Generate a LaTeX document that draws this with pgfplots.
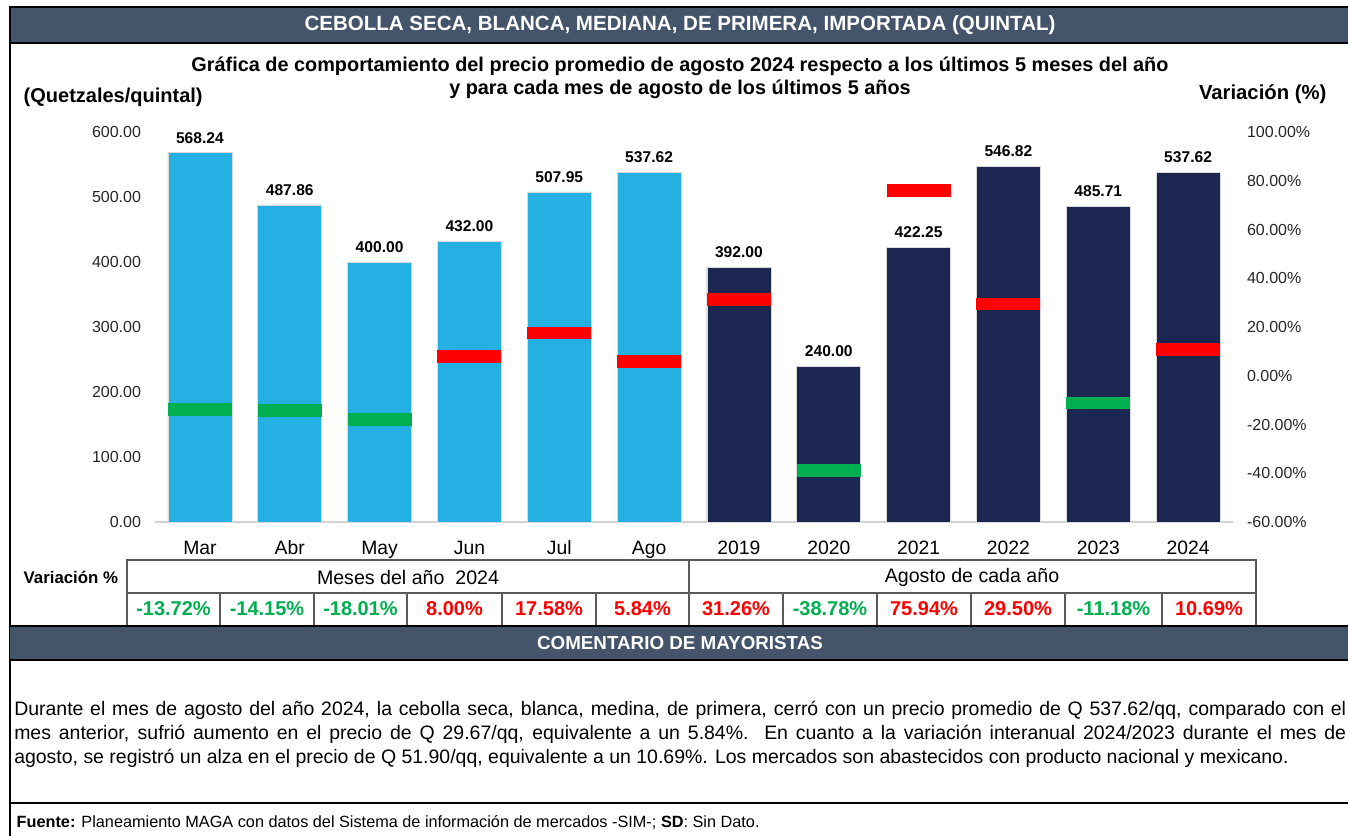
\documentclass[border=0pt]{standalone}
\usepackage{pgfplots}
\pgfplotsset{compat=1.18}
\usepackage{fontspec}
\setmainfont{Liberation Sans}
\definecolor{hdr}{HTML}{44546A}
\definecolor{lblue}{HTML}{25B0E4}
\definecolor{navy}{HTML}{1C2751}
\definecolor{vred}{HTML}{FF0000}
\definecolor{vgreen}{HTML}{00B050}
\definecolor{tick}{HTML}{262626}
\definecolor{tblline}{HTML}{595959}
\begin{document}
\begin{tikzpicture}[x=0.75pt,y=0.75pt]
\path[use as bounding box] (0,0) rectangle (1348,836);
% header bar
\fill[hdr] (10,793) rectangle (1348,828);
\draw[black,line width=1.5pt] (10,0) -- (10,829) -- (1348,829);
\draw[black,line width=0.8pt] (10,793) -- (1348,793);
\node[white,font=\bfseries\fontsize{15.4}{18}\selectfont] at (680,811) {CEBOLLA SECA, BLANCA, MEDIANA, DE PRIMERA, IMPORTADA (QUINTAL)};
% titles
\node[font=\bfseries\fontsize{14.9}{17}\selectfont] at (680,770) {Gráfica de comportamiento del precio promedio de agosto 2024 respecto a los últimos 5 meses del año};
\node[font=\bfseries\fontsize{14.9}{17}\selectfont] at (680,747) {y para cada mes de agosto de los últimos 5 años};
\node[font=\bfseries\fontsize{15}{17}\selectfont,anchor=west] at (19,739) {(Quetzales/quintal)};
\node[font=\bfseries\fontsize{15.2}{17}\selectfont,anchor=east] at (1331,742) {Variación (\%)};

\begin{axis}[
  at={(116.25pt,235.5pt)}, anchor=south west,
  width=808.5pt, height=292.5pt, scale only axis,
  xmin=-0.5, xmax=11.5, ymin=0, ymax=600,
  axis x line*=bottom, axis y line*=left,
  x axis line style={draw=gray!35, line width=0.8pt},
  y axis line style={draw=none},
  major tick length=0pt,
  ytick={0,100,...,600},
  xtick={0,...,11},
  xticklabels={Mar,Abr,May,Jun,Jul,Ago,2019,2020,2021,2022,2023,2024},
  /pgf/number format/assume math mode=true,
  yticklabel style={font=\fontsize{12}{14}\selectfont, text=tick, xshift=-7pt,
    /pgf/number format/fixed, /pgf/number format/fixed zerofill, /pgf/number format/precision=2},
  xticklabel style={font=\fontsize{14.5}{16}\selectfont, text=black, anchor=base, yshift=-24pt},
  clip=false,
]
\addplot[ybar, bar width=48pt, bar shift=0pt, fill=lblue, draw=gray!30, line width=0.5pt,
  nodes near coords={\pgfmathprintnumber[fixed,fixed zerofill,precision=2]{\pgfplotspointmeta}},
  every node near coord/.append style={font=\bfseries\fontsize{11.7}{13}\selectfont, text=black, yshift=3.5pt}]
  coordinates {(0,568.24) (1,487.86) (2,400.00) (3,432.00) (4,507.95) (5,537.62)};
\addplot[ybar, bar width=48pt, bar shift=0pt, fill=navy, draw=gray!30, line width=0.5pt,
  nodes near coords={\pgfmathprintnumber[fixed,fixed zerofill,precision=2]{\pgfplotspointmeta}},
  every node near coord/.append style={font=\bfseries\fontsize{11.7}{13}\selectfont, text=black, yshift=3.5pt}]
  coordinates {(6,392.00) (7,240.00) (8,422.25) (9,546.82) (10,485.71) (11,537.62)};
\end{axis}

\begin{axis}[
  at={(116.25pt,235.5pt)}, anchor=south west,
  width=808.5pt, height=292.5pt, scale only axis,
  xmin=-0.5, xmax=11.5, ymin=-60, ymax=100,
  hide x axis,
  axis y line*=right,
  y axis line style={draw=none},
  major tick length=0pt,
  ytick={-60,-40,...,100},
  /pgf/number format/assume math mode=true,
  yticklabel={\pgfmathprintnumber[fixed,fixed zerofill,precision=2]{\tick}\%},
  yticklabel style={font=\fontsize{12}{14}\selectfont, text=tick, xshift=7pt},
]
\addplot[only marks, mark=-, mark size=24pt, mark options={draw=vred, line width=9.5pt}]
  coordinates {(3,8.00) (4,17.58) (5,5.84) (6,31.26) (8,75.94) (9,29.50) (11,10.69)};
\addplot[only marks, mark=-, mark size=24pt, mark options={draw=vgreen, line width=9.5pt}]
  coordinates {(0,-13.72) (1,-14.15) (2,-18.01) (7,-38.78) (10,-11.18)};
\end{axis}

% table
\node[font=\bfseries\fontsize{12.6}{14}\selectfont,anchor=west] at (19,259) {Variación \%};
\draw[tblline,line width=1pt] (127,276) rectangle (1256,210);
\draw[tblline,line width=1pt] (127,243) -- (1256,243);
\draw[tblline,line width=1pt] (689,276) -- (689,210);
\foreach \xx in {220,314,407,502,596,783,877,971,1065,1162}
  \draw[tblline,line width=1pt] (\xx,243) -- (\xx,210);
\node[font=\fontsize{14.7}{17}\selectfont] at (408,259) {Meses del año\ \ 2024};
\node[font=\fontsize{14.7}{17}\selectfont] at (972,259) {Agosto de cada año};
\begin{scope}[every node/.style={font=\bfseries\fontsize{15}{17}\selectfont}]
\node[text=vgreen] at (173.5,227) {-13.72\%};
\node[text=vgreen] at (267,227) {-14.15\%};
\node[text=vgreen] at (360.5,227) {-18.01\%};
\node[text=vred] at (454.5,227) {8.00\%};
\node[text=vred] at (549,227) {17.58\%};
\node[text=vred] at (642.5,227) {5.84\%};
\node[text=vred] at (736,227) {31.26\%};
\node[text=vgreen] at (830,227) {-38.78\%};
\node[text=vred] at (924,227) {75.94\%};
\node[text=vred] at (1018,227) {29.50\%};
\node[text=vgreen] at (1113.5,227) {-11.18\%};
\node[text=vred] at (1209,227) {10.69\%};
\end{scope}

% comment bar
\fill[hdr] (10,176) rectangle (1348,210);
\draw[black,line width=0.8pt] (10,210) -- (1348,210);
\draw[black,line width=0.8pt] (10,176) -- (1348,176);
\node[white,font=\bfseries\fontsize{14.1}{16}\selectfont] at (680,193) {COMENTARIO DE MAYORISTAS};

\node[anchor=north west, inner sep=0pt, text width=999pt, align=justify,
  font=\fontsize{14.6}{18}\selectfont] at (14,135)
  {Durante el mes de agosto del año 2024, la cebolla seca, blanca, medina, de primera, cerró con un precio promedio de Q 537.62/qq, comparado con el\linebreak mes anterior, sufrió aumento en el precio de Q 29.67/qq, equivalente a un 5.84\%.\ \ En cuanto a la variación interanual 2024/2023 durante el mes de\linebreak agosto, se registró un alza en el precio de Q 51.90/qq, equivalente a un 10.69\%. Los mercados son abastecidos con producto nacional y mexicano.};

\draw[black,line width=1.2pt] (10,33) -- (1348,33);
\node[anchor=west, font=\fontsize{12.2}{14}\selectfont] at (12,13)
  {\textbf{Fuente:} Planeamiento MAGA con datos del Sistema de información de mercados -SIM-; \textbf{SD}: Sin Dato.};
\end{tikzpicture}
\end{document}
